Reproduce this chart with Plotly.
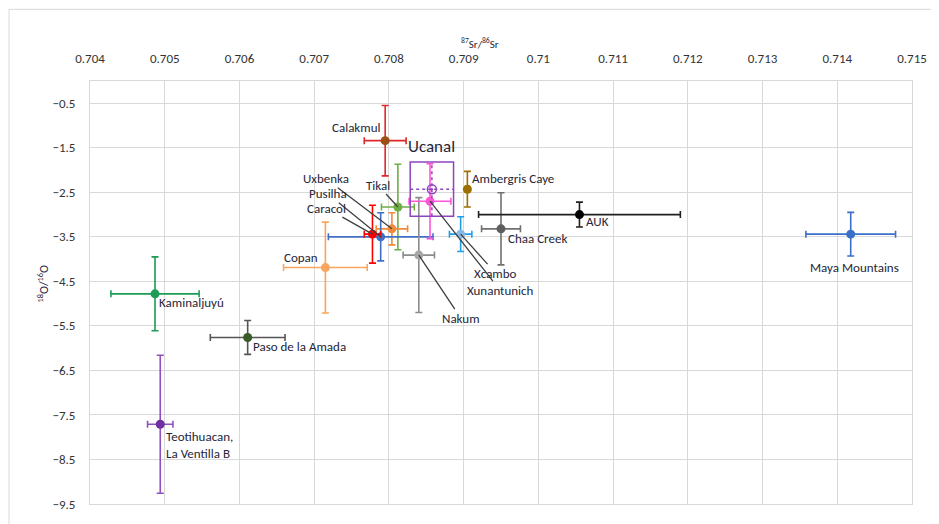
import plotly.graph_objects as go

# ---------------- data ----------------
sites = ["Calakmul", "Ambergris Caye", "Tikal", "Uxbenka", "Pusilha", "Caracol",
         "Nakum", "Xunantunich", "Xcambo", "Chaa Creek", "AUK", "Maya Mountains",
         "Copan", "Kaminaljuyú", "Paso de la Amada", "Teotihuacan,<br>La Ventilla B"]
sr = [0.70795, 0.70905, 0.70812, 0.70804, 0.70789, 0.70778,
      0.70840, 0.70855, 0.70896, 0.70950, 0.71055, 0.71418,
      0.70715, 0.70487, 0.70611, 0.70494]
sr_err = [0.00028, 0.00003, 0.00022, 0.00021, 0.00070, 0.00011,
          0.00021, 0.00028, 0.00015, 0.00026, 0.00135, 0.00060,
          0.00056, 0.00059, 0.00050, 0.00017]
d18o = [-1.34, -2.43, -2.83, -3.32, -3.50, -3.44,
        -3.91, -2.70, -3.44, -3.32, -3.00, -3.44,
        -4.19, -4.78, -5.76, -7.71]
d18o_err = [0.79, 0.40, 0.96, 0.36, 0.54, 0.65,
            1.29, 0.84, 0.39, 0.81, 0.28, 0.49,
            1.02, 0.83, 0.38, 1.55]
marker_colors = ["#9C4F12", "#9C7000", "#70AD47", "#F08A3C", "#3F6FC6", "#FF0000",
                 "#A6A6A6", "#FF55D8", "#8AB8E4", "#5E5E5E", "#000000", "#3A70C8",
                 "#F9A55E", "#1E9B55", "#3A5A26", "#7030A0"]
error_colors = ["#E0262B", "#9C7000", "#70AD47", "#F08A3C", "#3F6FC6", "#FF0000",
                "#8C8C8C", "#FF55D8", "#1E9FE8", "#707070", "#202020", "#3A70C8",
                "#F9A55E", "#1E9B55", "#555555", "#9050C0"]

ucanal_sr, ucanal_sr_err = 0.708575, 0.00029
ucanal_d18o, ucanal_d18o_err = -2.43, 0.61

x_ticks = [0.704, 0.705, 0.706, 0.707, 0.708, 0.709, 0.710, 0.711, 0.712, 0.713, 0.714, 0.715]
x_tick_labels = ["0.704", "0.705", "0.706", "0.707", "0.708", "0.709", "0.71",
                 "0.711", "0.712", "0.713", "0.714", "0.715"]
y_ticks = [-0.5, -1.5, -2.5, -3.5, -4.5, -5.5, -6.5, -7.5, -8.5, -9.5]

FONT = "Carlito, Lato, sans-serif"
TXT = "#262638"

fig = go.Figure()

for i, name in enumerate(sites):
    fig.add_trace(go.Scatter(
        x=[sr[i]], y=[d18o[i]], mode="markers", name=name.replace("<br>", " "),
        marker=dict(size=9, color=marker_colors[i]),
        error_x=dict(type="data", array=[sr_err[i]], color=error_colors[i], thickness=1.6, width=3.5),
        error_y=dict(type="data", array=[d18o_err[i]], color=error_colors[i], thickness=1.6, width=3.5),
        showlegend=False, hoverinfo="name+x+y"))

# Ucanal: dotted cross + box + open marker
UC = "#8E44C0"
fig.add_trace(go.Scatter(x=[ucanal_sr - ucanal_sr_err, ucanal_sr + ucanal_sr_err],
                         y=[ucanal_d18o, ucanal_d18o], mode="lines",
                         line=dict(color=UC, width=1.5, dash="dot"), showlegend=False, hoverinfo="skip"))
fig.add_trace(go.Scatter(x=[ucanal_sr, ucanal_sr],
                         y=[ucanal_d18o - ucanal_d18o_err, ucanal_d18o + ucanal_d18o_err], mode="lines",
                         line=dict(color=UC, width=1.5, dash="dot"), showlegend=False, hoverinfo="skip"))
fig.add_trace(go.Scatter(x=[ucanal_sr], y=[ucanal_d18o], mode="markers", name="Ucanal",
                         marker=dict(size=9, symbol="circle-open-dot", color=UC, line=dict(width=1.5)),
                         showlegend=False))
fig.add_shape(type="rect", xref="x", yref="y",
              x0=ucanal_sr - ucanal_sr_err, x1=ucanal_sr + ucanal_sr_err,
              y0=ucanal_d18o - ucanal_d18o_err, y1=ucanal_d18o + ucanal_d18o_err,
              line=dict(color=UC, width=1.5))

# chart-area border
fig.add_shape(type="rect", xref="paper", yref="paper", x0=-0.0985, x1=1.06, y0=-0.06, y1=1.1695,
              line=dict(color="#D9D9D9", width=1), layer="below")

# ---------------- labels ----------------
def idx(n):
    return [s.split("<br>")[0] for s in sites].index(n)

plain = {  # name: (xanchor, yanchor, xshift, yshift)
    "Calakmul": ("right", "middle", -3, 13),
    "Ambergris Caye": ("left", "middle", 3, 11),
    "Chaa Creek": ("left", "middle", 5, -10),
    "AUK": ("left", "middle", 5, -7),
    "Maya Mountains": ("center", "middle", 4, -33),
    "Copan": ("right", "middle", -5, 10),
    "Kaminaljuyú": ("left", "middle", 2, -9),
    "Paso de la Amada": ("left", "middle", 3, -9),
    "Teotihuacan,": ("left", "top", 4, -3),
}
for n, (xa, ya, xs, ys) in plain.items():
    i = idx(n)
    fig.add_annotation(x=sr[i], y=d18o[i], text=sites[i], showarrow=False,
                       xanchor=xa, yanchor=ya, xshift=xs, yshift=ys, align="left",
                       font=dict(family=FONT, size=13, color=TXT))

leader = {  # name: (ax, ay) pixel offset of label from point
    "Uxbenka": (-66, -50),
    "Pusilha": (-53, -43),
    "Caracol": (-46, -26),
    "Tikal": (-20, -22),
    "Nakum": (42, 63),
    "Xunantunich": (70, 89),
    "Xcambo": (35, 39),
}
for n, (ax, ay) in leader.items():
    i = idx(n)
    fig.add_annotation(x=sr[i], y=d18o[i], text=n, showarrow=True, arrowhead=0,
                       arrowwidth=1.3, arrowcolor="#404040", ax=ax, ay=ay, standoff=0,
                       font=dict(family=FONT, size=13, color=TXT))

fig.add_annotation(x=ucanal_sr, y=ucanal_d18o + ucanal_d18o_err, text="Ucanal", showarrow=False,
                   yanchor="bottom", yshift=3, font=dict(family=FONT, size=17, color=TXT))

# axis titles
fig.add_annotation(xref="paper", yref="paper", x=0.4745, y=1.0, yshift=47, showarrow=False,
                   text="<sup>87</sup>Sr/<sup>86</sup>Sr", font=dict(family=FONT, size=11, color=TXT))
fig.add_annotation(xref="paper", yref="paper", x=-0.069, y=0.522, showarrow=False, textangle=-90,
                   text="<sup>18</sup>O/<sup>16</sup>O", font=dict(family=FONT, size=12, color=TXT))

fig.update_xaxes(range=[0.704, 0.715], side="top", tickvals=x_ticks, ticktext=x_tick_labels,
                 showgrid=True, gridcolor="#D9D9D9", gridwidth=1, zeroline=False,
                 showline=True, linecolor="#D9D9D9", mirror=True, ticks="", ticklabelstandoff=12,
                 tickfont=dict(family=FONT, size=13, color="#333333"))
fig.update_yaxes(range=[-9.5, 0], tickvals=y_ticks,
                 showgrid=True, gridcolor="#D9D9D9", gridwidth=1, zeroline=False,
                 showline=True, linecolor="#D9D9D9", mirror=True, ticks="", ticklabelstandoff=11,
                 tickfont=dict(family=FONT, size=13, color="#333333"))

fig.update_layout(width=931, height=516, margin=dict(l=82, r=25, t=73, b=16),
                  plot_bgcolor="white", paper_bgcolor="white", showlegend=False)

fig.write_html("out.html")
